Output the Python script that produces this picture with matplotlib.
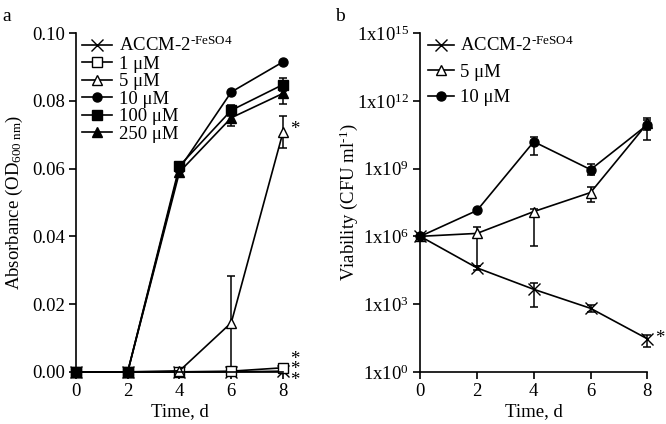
import matplotlib
matplotlib.use("Agg")
import matplotlib.pyplot as plt

# ---- data --------------------------------------------------------------
days = [0, 2, 4, 6, 8]

# panel a: absorbance (OD600)
od_labels = ["ACCM-2$^{\\mathrm{‐FeSO4}}$", "1 μM", "5 μM", "10 μM", "100 μM", "250 μM"]
od_accm = [0.0, 0.0, 0.0, 0.0, 0.0002]
od_1 = [0.0, 0.0, 0.0, 0.0002, 0.0012]
od_5 = [0.0, 0.0, 0.0003, 0.0145, 0.0708]
od_10 = [0.0, 0.0, 0.0600, 0.0826, 0.0915]
od_100 = [0.0, 0.0, 0.0608, 0.0772, 0.0848]
od_250 = [0.0, 0.0, 0.0590, 0.0750, 0.0822]
od_accm_sd = [0, 0, 0, 0, 0]
od_1_sd = [0, 0, 0, 0, 0.0003]
od_5_sd = [0, 0, 0.0003, 0.0139, 0.0048]
od_10_sd = [0, 0, 0.0008, 0, 0]
od_100_sd = [0, 0, 0.0010, 0.0016, 0.0020]
od_250_sd = [0, 0, 0.0015, 0.0025, 0.0030]

# panel b: viability (CFU/ml), mean with lower / upper error bounds
cfu_labels = ["ACCM-2$^{\\mathrm{‐FeSO4}}$", "5 μM", "10 μM"]
cfu_accm = [1e6, 4.0e4, 4.5e3, 6.5e2, 2.9e1]
cfu_accm_lo = [1e6, 3.3e4, 7.5e2, 4.5e2, 1.2e1]
cfu_accm_hi = [1e6, 5.0e4, 8.5e3, 9.5e2, 4.3e1]
cfu_5 = [1e6, 1.35e6, 1.25e7, 8.7e7, 1.0e11]
cfu_5_lo = [1e6, 5.0e4, 3.6e5, 3.2e7, 1.9e10]
cfu_5_hi = [1e6, 2.5e6, 1.7e7, 1.6e8, 1.8e11]
cfu_10 = [1e6, 1.4e7, 1.55e10, 9.0e8, 8.7e10]
cfu_10_lo = [1e6, 1.4e7, 4.0e9, 5.0e8, 5.0e10]
cfu_10_hi = [1e6, 1.4e7, 2.5e10, 1.6e9, 1.45e11]

# ---- style -------------------------------------------------------------
plt.rcParams["font.family"] = ["Liberation Serif", "DejaVu Serif"]
plt.rcParams["mathtext.fontset"] = "custom"
plt.rcParams["mathtext.rm"] = "Liberation Serif"
plt.rcParams["mathtext.it"] = "Liberation Serif:italic"
plt.rcParams["font.size"] = 13.5
plt.rcParams["axes.linewidth"] = 1.2
plt.rcParams["xtick.major.width"] = 1.2
plt.rcParams["ytick.major.width"] = 1.2
plt.rcParams["xtick.major.size"] = 5
plt.rcParams["ytick.major.size"] = 5

fig = plt.figure(figsize=(6.66, 4.24), dpi=100)
ax_a = fig.add_axes([0.114, 0.123, 0.311, 0.799])
ax_b = fig.add_axes([0.631, 0.123, 0.341, 0.799])

common = dict(color="black", lw=1.2, capsize=3, elinewidth=1.1, capthick=1.1,
              clip_on=False)


def draw(ax, vals, err, mk, fc, lab):
    ms = 8 if mk == "x" else 6.5
    eb = ax.errorbar(days, vals, yerr=err, fmt="-" + mk, mfc=fc, mec="black",
                     markersize=ms, **common)
    for art in eb.lines[1] + eb.lines[2]:
        art.set_clip_on(False)
    eb.lines[0].set_label(lab)
    return eb.lines[0]


# ---- panel a -----------------------------------------------------------
series_a = [
    (od_accm, od_accm_sd, "x", "black"),
    (od_1, od_1_sd, "s", "white"),
    (od_5, od_5_sd, "^", "white"),
    (od_10, od_10_sd, "o", "black"),
    (od_100, od_100_sd, "s", "black"),
    (od_250, od_250_sd, "^", "black"),
]
handles_a = [draw(ax_a, v, sd, mk, fc, lab)
             for (v, sd, mk, fc), lab in zip(series_a, od_labels)]

ax_a.set_xlim(0, 8)
ax_a.set_ylim(0, 0.10)
ax_a.set_xticks(days)
ax_a.set_yticks([0, 0.02, 0.04, 0.06, 0.08, 0.10])
ax_a.set_yticklabels(["0.00", "0.02", "0.04", "0.06", "0.08", "0.10"])
ax_a.set_xlabel("Time, d", labelpad=2)
ax_a.set_ylabel("Absorbance (OD$_{\\mathrm{600\\ nm}}$)")
ax_a.yaxis.set_label_coords(-0.246, 0.5)
ax_a.text(8.45, 0.0715, "*", ha="center", va="center")
ax_a.text(8.45, 0.0006, "*\n*\n*", ha="center", va="center", linespacing=0.5,
          clip_on=False)
ax_a.legend(handles=handles_a, loc="upper left", bbox_to_anchor=(-0.025, 1.025),
            frameon=False, handlelength=1.6, handletextpad=0.35, labelspacing=0.02,
            borderaxespad=0.2, fontsize=13.5)
fig.text(0.004, 0.962, "a", fontsize=14, va="center")

# ---- panel b -----------------------------------------------------------
series_b = [
    (cfu_accm, cfu_accm_lo, cfu_accm_hi, "x", "black"),
    (cfu_5, cfu_5_lo, cfu_5_hi, "^", "white"),
    (cfu_10, cfu_10_lo, cfu_10_hi, "o", "black"),
]
handles_b = []
for (vals, lo, hi, mk, fc), lab in zip(series_b, cfu_labels):
    err = [[v - l for v, l in zip(vals, lo)], [h - v for v, h in zip(vals, hi)]]
    handles_b.append(draw(ax_b, vals, err, mk, fc, lab))

ax_b.set_yscale("log")
ax_b.set_xlim(0, 8)
ax_b.set_ylim(1, 1e15)
ax_b.set_xticks(days)
ax_b.set_yticks([1e0, 1e3, 1e6, 1e9, 1e12, 1e15])
ax_b.set_yticklabels(["1x10$^{0}$", "1x10$^{3}$", "1x10$^{6}$", "1x10$^{9}$",
                      "1x10$^{12}$", "1x10$^{15}$"])
ax_b.minorticks_off()
ax_b.set_xlabel("Time, d", labelpad=2)
ax_b.set_ylabel("Viability (CFU ml$^{\\mathrm{‐1}}$)")
ax_b.yaxis.set_label_coords(-0.265, 0.5)
ax_b.text(8.45, 30, "*", ha="center", va="center", clip_on=False)
ax_b.legend(handles=handles_b, loc="upper left", bbox_to_anchor=(-0.015, 1.025),
            frameon=False, handlelength=1.4, handletextpad=0.3, labelspacing=0.45,
            borderaxespad=0.2, fontsize=13.5)
fig.text(0.503, 0.962, "b", fontsize=14, va="center")

for ax in (ax_a, ax_b):
    ax.spines["top"].set_visible(False)
    ax.spines["right"].set_visible(False)
    ax.tick_params(direction="out", pad=3)

fig.savefig("out.png", dpi=100)
